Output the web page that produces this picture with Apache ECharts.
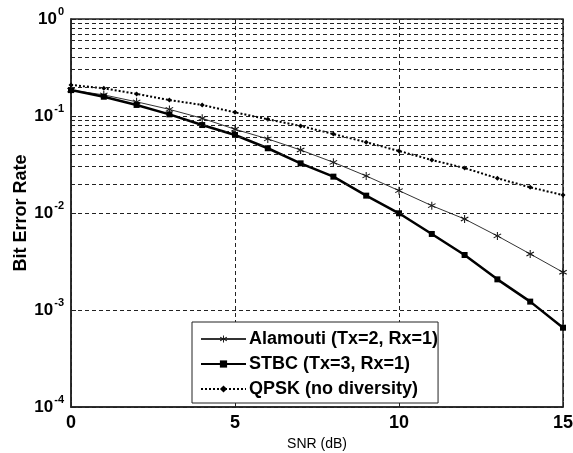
<!DOCTYPE html>
<html style="height: 100%">
<head>
<meta charset="utf-8">
<title>BER</title>
<script src="https://cdn.jsdelivr.net/npm/echarts@6/dist/echarts.min.js"></script>
</head>
<body style="height: 100%; margin: 0; background: #fff">
	<div id="container" style="width: 573px; height: 453px"></div>
	<script type="text/javascript">
		var snr = [0, 1, 2, 3, 4, 5, 6, 7, 8, 9, 10, 11, 12, 13, 14, 15];
		var alamouti = [0.185, 0.165, 0.140, 0.117, 0.0947, 0.073, 0.058, 0.0446, 0.0333, 0.0241, 0.0170, 0.0119, 0.00867, 0.0058, 0.00378, 0.00245];
		var stbc = [0.185, 0.158, 0.130, 0.104, 0.0807, 0.0637, 0.0465, 0.0325, 0.0237, 0.0151, 0.00993, 0.00608, 0.00369, 0.00207, 0.00122, 0.000657];
		var qpsk = [0.209, 0.193, 0.169, 0.146, 0.130, 0.109, 0.0925, 0.0789, 0.0652, 0.0536, 0.0436, 0.0352, 0.0291, 0.0228, 0.0184, 0.0153];
		var seriesNames = ['Alamouti (Tx=2, Rx=1)', 'STBC (Tx=3, Rx=1)', 'QPSK (no diversity)'];
		var decades = [0.0001, 0.001, 0.01, 0.1];
		var minorSteps = [2, 3, 4, 5, 6, 7, 8, 9];

		var font = 'Liberation Sans, Arial, sans-serif';
		var gridDash = [4, 3];
		var asterisk = 'path://M-0.6,-5L0.6,-5L0.6,5L-0.6,5Z' +
			'M4.03,3.02L4.63,1.98L-4.03,-3.02L-4.63,-1.98Z' +
			'M-4.63,1.98L-4.03,3.02L4.63,-1.98L4.03,-3.02Z';

		function pairs(ys) {
			var out = [];
			for (var i = 0; i < snr.length; i++) out.push([snr[i], ys[i]]);
			return out;
		}

		// minor log grid lines 2..9 in each decade
		var minorLines = [];
		for (var d = 0; d < decades.length; d++) {
			for (var k = 0; k < minorSteps.length; k++) {
				minorLines.push({ yAxis: decades[d] * minorSteps[k] });
			}
		}

		var myChart = echarts.init(document.getElementById('container'));

		var option = {
			animation: false,
			backgroundColor: '#fff',
			grid: {
				left: 71,
				right: 10,
				top: 19,
				bottom: 46,
				outerBoundsMode: 'none',
				show: true,
				borderColor: '#222',
				borderWidth: 1.5
			},
			xAxis: {
				type: 'value',
				min: 0,
				max: 15,
				interval: 5,
				name: 'SNR (dB)',
				nameLocation: 'middle',
				nameGap: 22,
				nameTextStyle: { fontFamily: font, fontSize: 14, color: '#000' },
				axisLine: { lineStyle: { color: '#222', width: 1.5 } },
				axisTick: { inside: true, length: 5, lineStyle: { color: '#222' } },
				axisLabel: { fontFamily: font, fontSize: 18, fontWeight: 'bold', color: '#000', margin: 7 },
				splitLine: { show: true, lineStyle: { color: '#222', type: gridDash, width: 1 } }
			},
			yAxis: {
				type: 'log',
				logBase: 10,
				min: 0.0001,
				max: 1,
				name: 'Bit Error Rate',
				nameLocation: 'middle',
				nameGap: 41,
				nameMoveOverlap: false,
				nameTextStyle: { fontFamily: font, fontSize: 18, fontWeight: 'bold', color: '#000' },
				axisLine: { lineStyle: { color: '#222', width: 1.5 } },
				axisTick: { inside: true, length: 5, lineStyle: { color: '#222' } },
				axisLabel: {
					margin: 7,
					formatter: function (v) {
						var e = Math.round(Math.log(v) / Math.LN10);
						return '{b|10}{s|' + e + '}';
					},
					rich: {
						b: { fontFamily: font, fontSize: 17, fontWeight: 'bold', color: '#000', lineHeight: 17 },
						s: { fontFamily: font, fontSize: 11, fontWeight: 'bold', color: '#000', lineHeight: 11, padding: [0, 0, 14, 1] }
					}
				},
				splitLine: { show: true, lineStyle: { color: '#222', type: gridDash, width: 1 } }
			},
			legend: {
				data: seriesNames,
				orient: 'vertical',
				left: 192,
				top: 322,
				padding: [8, 0, 5, 8],
				itemWidth: 45,
				itemHeight: 9,
				itemGap: 7,
				backgroundColor: '#fff',
				borderColor: '#222',
				borderWidth: 1,
				textStyle: { fontFamily: font, fontSize: 18, fontWeight: 'bold', color: '#000', lineHeight: 17, padding: [0, 0, 0, -2] }
			},
			series: [{
				name: 'grid-minor',
				type: 'line',
				data: [],
				z: 1,
				silent: true,
				markLine: {
					silent: true,
					symbol: 'none',
					label: { show: false },
					lineStyle: { color: '#222', type: gridDash, width: 1 },
					data: minorLines
				}
			}, {
				name: seriesNames[0],
				type: 'line',
				data: pairs(alamouti),
				symbol: asterisk,
				symbolSize: 8,
				z: 3,
				itemStyle: { color: '#111' },
				lineStyle: { color: '#333', width: 1 }
			}, {
				name: seriesNames[1],
				type: 'line',
				data: pairs(stbc),
				symbol: 'rect',
				symbolSize: 6,
				z: 4,
				itemStyle: { color: '#000' },
				lineStyle: { color: '#000', width: 2.5 }
			}, {
				name: seriesNames[2],
				type: 'line',
				data: pairs(qpsk),
				symbol: 'diamond',
				symbolSize: 5,
				z: 3,
				itemStyle: { color: '#000' },
				lineStyle: { color: '#000', width: 2, type: [2, 2] }
			}]
		};

		myChart.setOption(option);
	</script>
</body>
</html>
